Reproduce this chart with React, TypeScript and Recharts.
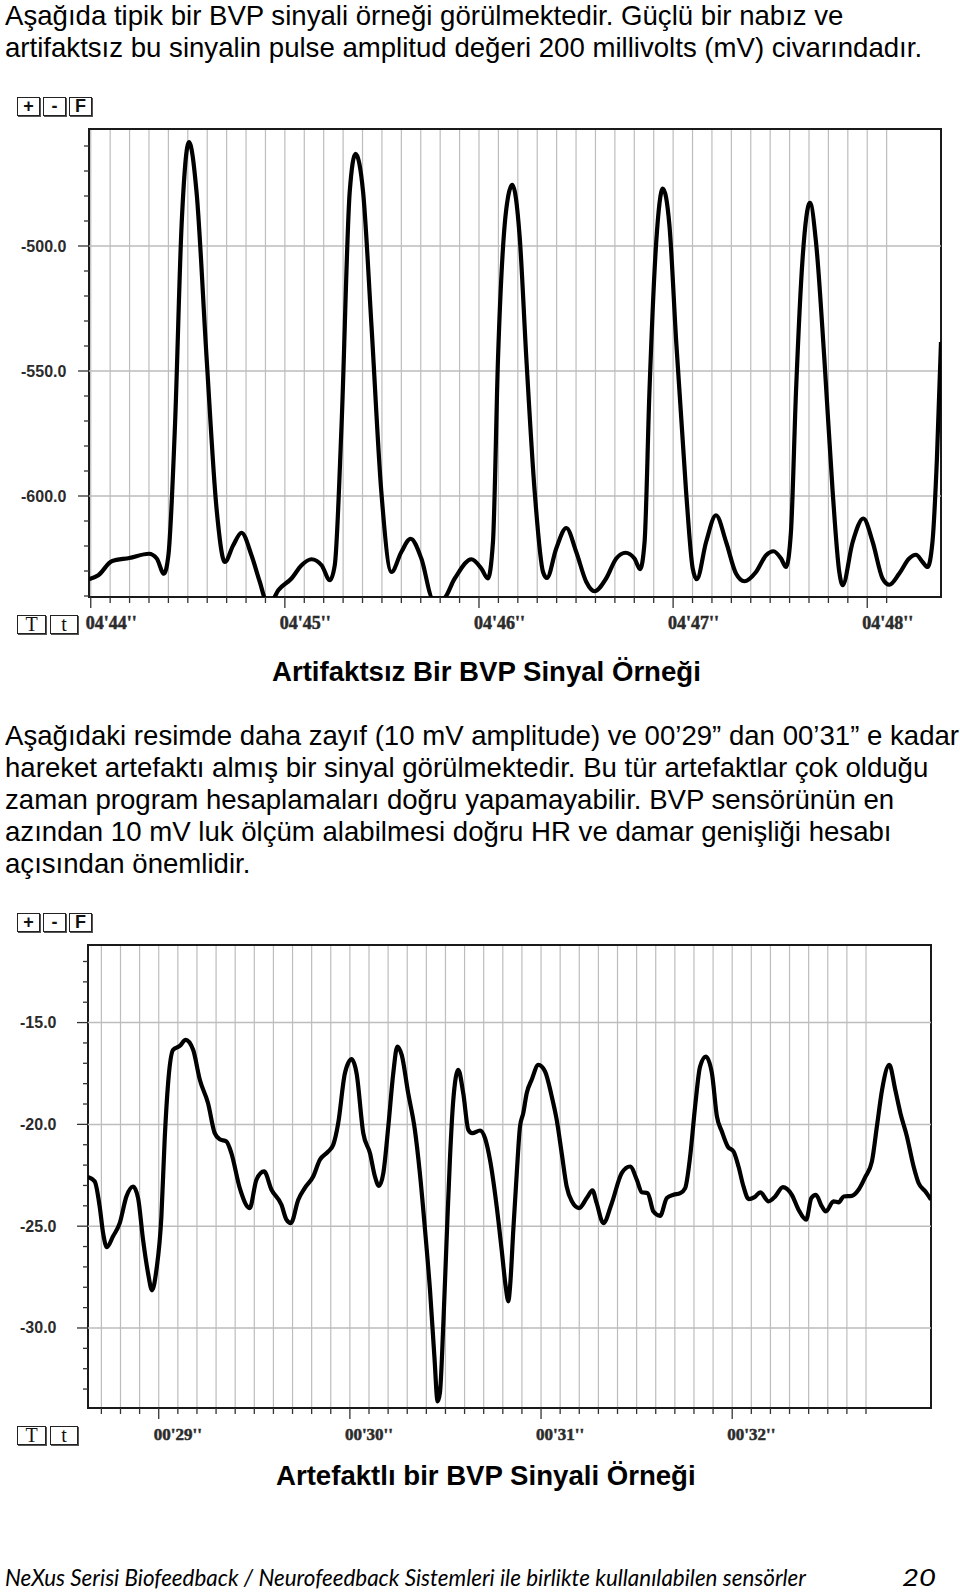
import React from 'react';
import { LineChart, Line, XAxis, YAxis, CartesianGrid, ReferenceLine, ReferenceArea } from 'recharts';

// artefakt-free BVP sample (seconds, value)
const topTimes = [
  283.991, 284.039, 284.108, 284.199, 284.3, 284.34, 284.377, 284.4, 284.434, 284.468, 284.506, 284.545,
  284.597, 284.648, 284.691, 284.734, 284.777, 284.828, 284.871, 284.906, 284.931, 284.966, 285.034, 285.086,
  285.137, 285.189, 285.232, 285.257, 285.292, 285.334, 285.364, 285.403, 285.446, 285.497, 285.549, 285.6,
  285.648, 285.703, 285.763, 285.815, 285.875, 285.961, 286.012, 286.046, 286.072, 286.098, 286.141, 286.172,
  286.209, 286.244, 286.287, 286.33, 286.35, 286.398, 286.45, 286.501, 286.553, 286.595, 286.655, 286.707,
  286.755, 286.801, 286.83, 286.853, 286.878, 286.913, 286.947, 286.981, 287.016, 287.067, 287.101, 287.122,
  287.17, 287.221, 287.273, 287.324, 287.367, 287.427, 287.479, 287.517, 287.556, 287.582, 287.607, 287.633,
  287.667, 287.705, 287.736, 287.779, 287.822, 287.856, 287.873, 287.925, 287.98, 288.028, 288.079, 288.114,
  288.165, 288.216, 288.251, 288.285, 288.311, 288.336, 288.359, 288.38,
];
const topValues = [
  -633.3, -631.7, -626.1, -624.8, -623.1, -625.0, -631.1, -623.7, -571.7, -491.7, -458.4, -478.4,
  -545.0, -605.0, -626.4, -619.7, -614.7, -623.7, -634.4, -642.0, -642.0, -637.7, -633.0, -627.7,
  -625.3, -627.7, -633.7, -627.7, -571.7, -478.4, -463.1, -478.4, -531.7, -598.4, -630.4, -622.4,
  -617.1, -625.0, -641.0, -641.0, -633.0, -625.3, -629.0, -633.0, -618.4, -545.0, -485.0, -475.5,
  -495.7, -545.0, -598.4, -630.4, -632.8, -621.0, -612.8, -622.4, -634.4, -638.1, -633.0, -625.0,
  -622.7, -625.0, -629.3, -618.4, -558.4, -498.4, -477.0, -491.7, -538.4, -598.4, -629.0, -633.3,
  -618.4, -607.7, -618.4, -631.0, -634.1, -630.4, -623.7, -622.1, -625.0, -628.4, -614.4, -558.4,
  -505.0, -482.7, -498.4, -545.0, -598.4, -630.4, -635.7, -618.4, -609.0, -618.4, -633.0, -635.5,
  -631.0, -625.0, -623.5, -626.4, -628.4, -618.4, -585.0, -538.4,
];

// BVP sample with motion artefact
const bottomTimes = [
  28.63, 28.665, 28.691, 28.709, 28.729, 28.761, 28.796, 28.831, 28.866, 28.892, 28.918, 28.944,
  28.965, 28.988, 29.014, 29.031, 29.049, 29.075, 29.11, 29.141, 29.18, 29.215, 29.258, 29.293,
  29.319, 29.354, 29.38, 29.424, 29.476, 29.511, 29.551, 29.59, 29.642, 29.668, 29.691, 29.73,
  29.764, 29.808, 29.843, 29.887, 29.913, 29.939, 29.974, 30.009, 30.035, 30.07, 30.105, 30.131,
  30.152, 30.175, 30.201, 30.227, 30.248, 30.271, 30.305, 30.34, 30.366, 30.393, 30.419, 30.442,
  30.459, 30.471, 30.489, 30.506, 30.524, 30.541, 30.567, 30.593, 30.62, 30.64, 30.681, 30.707,
  30.733, 30.768, 30.794, 30.815, 30.829, 30.838, 30.855, 30.873, 30.89, 30.907, 30.925, 30.951,
  30.986, 31.021, 31.056, 31.082, 31.108, 31.134, 31.161, 31.199, 31.239, 31.269, 31.291, 31.326,
  31.37, 31.422, 31.466, 31.501, 31.527, 31.558, 31.588, 31.623, 31.658, 31.693, 31.728, 31.754,
  31.78, 31.806, 31.832, 31.862, 31.894, 31.92, 31.946, 31.977, 32.007, 32.033, 32.059, 32.086,
  32.117, 32.147, 32.19, 32.225, 32.265, 32.312, 32.347, 32.387, 32.414, 32.438, 32.469, 32.49,
  32.53, 32.557, 32.583, 32.626, 32.661, 32.696, 32.731, 32.757, 32.784, 32.822, 32.853, 32.88,
  32.914, 32.949, 32.975, 33.01, 33.04,
];
const bottomValues = [
  -22.59, -22.8, -24.03, -25.34, -26.03, -25.5, -24.85, -23.54, -23.05, -23.62, -25.67, -27.3,
  -28.15, -27.14, -24.52, -20.76, -17.98, -16.34, -16.15, -15.85, -16.34, -17.81, -18.96, -20.43,
  -20.73, -20.84, -21.41, -23.13, -24.11, -22.72, -22.31, -23.21, -23.95, -24.68, -24.85, -23.7,
  -23.13, -22.56, -21.74, -21.33, -21.0, -19.94, -17.49, -16.8, -17.49, -20.43, -21.41, -22.56,
  -23.02, -22.39, -20.1, -17.49, -16.18, -16.59, -18.47, -20.27, -22.39, -25.17, -28.12, -31.39,
  -33.6, -33.19, -29.76, -25.67, -21.58, -18.8, -17.32, -18.47, -20.27, -20.43, -20.3, -20.68,
  -21.74, -24.03, -26.16, -27.96, -28.69, -27.96, -25.17, -22.39, -20.1, -19.45, -18.47, -17.81,
  -17.08, -17.4, -18.63, -19.78, -21.41, -23.05, -23.78, -24.11, -23.62, -23.24, -23.87, -24.85,
  -23.87, -22.39, -22.07, -22.72, -23.33, -23.38, -24.28, -24.49, -23.62, -23.46, -23.38, -23.13,
  -21.58, -19.12, -17.16, -16.67, -17.49, -19.61, -20.35, -21.09, -21.33, -22.07, -23.05, -23.67,
  -23.57, -23.34, -23.78, -23.54, -23.08, -23.46, -24.19, -24.68, -23.62, -23.46, -24.03, -24.28,
  -23.78, -23.83, -23.54, -23.51, -23.21, -22.59, -21.82, -20.1, -18.3, -17.08, -18.3, -19.45,
  -20.59, -22.07, -22.88, -23.29, -23.7,
];

// labelled ticks
const topSeconds = [284, 285, 286, 287, 288];
const topSecondLabels = ["04'44''", "04'45''", "04'46''", "04'47''", "04'48''"];
const topMajorY = [-600, -550, -500];
const topMajorYLabels = ['-600.0', '-550.0', '-500.0'];

const bottomSeconds = [29, 30, 31, 32];
const bottomSecondLabels = ["00'29''", "00'30''", "00'31''", "00'32''"];
const bottomMajorY = [-30, -25, -20, -15];
const bottomMajorYLabels = ['-30.0', '-25.0', '-20.0', '-15.0'];

const range = (from: number, to: number, step: number) => {
  const out: number[] = [];
  for (let v = from; v <= to + step / 2; v += step) out.push(Math.round(v * 10) / 10);
  return out;
};

const topData = topTimes.map((t, i) => ({ t, v: topValues[i] }));
const bottomData = bottomTimes.map((t, i) => ({ t, v: bottomValues[i] }));

const GRID = '#bdbdbd';
const INK = '#1a1a1a';

function TimeTick(props: any) {
  const { x, y, payload, majors, labels, size } = props;
  const v = Math.round(payload.value * 10) / 10;
  const idx = majors.indexOf(v);
  return (
    <g>
      <line x1={x} x2={x} y1={y} y2={y + (idx >= 0 ? 11 : 6)} stroke="#333" strokeWidth={1.3} />
      {idx >= 0 && (
        <text
          x={x - 5}
          y={y + 32}
          fontFamily="'Liberation Serif', 'Times New Roman', serif"
          fontWeight="bold"
          fontSize={size}
          fill="#2b2b2b"
          stroke="#2b2b2b"
          strokeWidth={0.5}
        >
          {labels[idx]}
        </text>
      )}
    </g>
  );
}

function ValueTick(props: any) {
  const { x, y, payload, majors, labels } = props;
  const idx = majors.indexOf(payload.value);
  return (
    <g>
      <line x1={x - (idx >= 0 ? 11 : 5)} x2={x} y1={y} y2={y} stroke="#333" strokeWidth={1.3} />
      {idx >= 0 && (
        <text x={x - 68} y={y + 5.5} fontFamily="'Liberation Sans', Arial, sans-serif" fontWeight="bold" fontSize={16} fill="#2b2b2b">
          {labels[idx]}
        </text>
      )}
    </g>
  );
}

function Btn({ left, top, width, label, serif }: { left: number; top: number; width: number; label: string; serif?: boolean }) {
  return (
    <div
      style={{
        position: 'absolute',
        left,
        top,
        width: width - 2,
        height: 17,
        border: '1px solid #222',
        boxShadow: '1px 1px 0 #555',
        fontFamily: serif ? "'Liberation Serif', serif" : "'Liberation Sans', Arial, sans-serif",
        fontWeight: serif ? 'normal' : 'bold',
        fontSize: serif ? 20 : 18,
        lineHeight: '17px',
        textAlign: 'center',
        color: '#111',
      }}
    >
      {label}
    </div>
  );
}

type ScopeProps = {
  top: number;
  plotTop: number;
  plotLeft: number;
  plotRight: number;
  plotBottom: number;
  data: { t: number; v: number }[];
  xDomain: [number, number];
  yDomain: [number, number];
  xTicks: number[];
  yTicks: number[];
  seconds: number[];
  secondLabels: string[];
  majorY: number[];
  majorYLabels: string[];
  labelSize: number;
};

function Scope(p: ScopeProps) {
  const height = p.plotBottom - p.top + 40;
  return (
    <div style={{ position: 'absolute', left: 0, top: p.top }}>
      <LineChart
        width={960}
        height={height}
        data={p.data}
        margin={{ top: p.plotTop - p.top, right: 960 - p.plotRight, bottom: 0, left: 0 }}
      >
        <CartesianGrid horizontal={false} stroke={GRID} strokeWidth={1.2} />
        {p.majorY.map((y) => (
          <ReferenceLine key={y} y={y} stroke={GRID} strokeWidth={1.5} />
        ))}
        <XAxis
          type="number"
          dataKey="t"
          domain={p.xDomain}
          allowDataOverflow
          ticks={p.xTicks}
          interval={0}
          height={40}
          axisLine={false}
          tickLine={false}
          tickSize={0}
          tickMargin={0}
          tick={(tp: any) => <TimeTick {...tp} majors={p.seconds} labels={p.secondLabels} size={p.labelSize} />}
        />
        <YAxis
          type="number"
          domain={p.yDomain}
          allowDataOverflow
          ticks={p.yTicks}
          interval={0}
          width={p.plotLeft}
          axisLine={false}
          tickLine={false}
          tickSize={0}
          tickMargin={0}
          tick={(tp: any) => <ValueTick {...tp} majors={p.majorY} labels={p.majorYLabels} />}
        />
        <ReferenceArea
          x1={p.xDomain[0]}
          x2={p.xDomain[1]}
          y1={p.yDomain[0]}
          y2={p.yDomain[1]}
          fill="none"
          fillOpacity={0}
          stroke={INK}
          strokeWidth={2}
        />
        <Line
          type="monotone"
          dataKey="v"
          stroke="#000"
          strokeWidth={4.2}
          strokeLinejoin="round"
          dot={false}
          isAnimationActive={false}
        />
      </LineChart>
    </div>
  );
}

const body: React.CSSProperties = {
  position: 'absolute',
  left: 5,
  fontFamily: "'Liberation Sans', Arial, sans-serif",
  fontSize: 27.6,
  color: '#000',
  whiteSpace: 'nowrap',
};

export default function App() {
  return (
    <div style={{ position: 'absolute', left: 0, top: 0, width: 960, height: 1593, background: '#fff', overflow: 'hidden' }}>
      <div style={{ ...body, top: 0, lineHeight: '31.5px' }}>
        <div>Aşağıda tipik bir BVP sinyali örneği görülmektedir. Güçlü bir nabız ve</div>
        <div>artifaktsız bu sinyalin pulse amplitud değeri 200 millivolts (mV) civarındadır.</div>
      </div>

      <Btn left={17} top={97} width={23} label="+" />
      <Btn left={43} top={97} width={23} label="-" />
      <Btn left={69} top={97} width={23} label="F" />
      <Scope
        top={100}
        plotTop={129}
        plotLeft={89}
        plotRight={941}
        plotBottom={597}
        data={topData}
        xDomain={[283.991, 288.38]}
        yDomain={[-640.4, -453.2]}
        xTicks={range(284, 288.1, 0.1)}
        yTicks={range(-640, -460, 10)}
        seconds={topSeconds}
        secondLabels={topSecondLabels}
        majorY={topMajorY}
        majorYLabels={topMajorYLabels}
        labelSize={18}
      />
      <Btn left={17} top={615} width={29} label="T" serif />
      <Btn left={50} top={615} width={28} label="t" serif />

      <div style={{ ...body, left: 272, top: 656, lineHeight: '32px', fontWeight: 'bold' }}>Artifaktsız Bir BVP Sinyal Örneği</div>

      <div style={{ ...body, top: 720, lineHeight: '32px' }}>
        <div>Aşağıdaki resimde daha zayıf (10 mV amplitude) ve 00’29” dan 00’31” e kadar</div>
        <div>hareket artefaktı almış bir sinyal görülmektedir. Bu tür artefaktlar çok olduğu</div>
        <div>zaman program hesaplamaları doğru yapamayabilir. BVP sensörünün en</div>
        <div>azından 10 mV luk ölçüm alabilmesi doğru HR ve damar genişliği hesabı</div>
        <div>açısından önemlidir.</div>
      </div>

      <Btn left={17} top={913} width={23} label="+" />
      <Btn left={43} top={913} width={23} label="-" />
      <Btn left={69} top={913} width={23} label="F" />
      <Scope
        top={920}
        plotTop={945}
        plotLeft={88}
        plotRight={931}
        plotBottom={1408}
        data={bottomData}
        xDomain={[28.63, 33.04]}
        yDomain={[-33.93, -11.19]}
        xTicks={range(28.7, 32.7, 0.1)}
        yTicks={range(-33, -12, 1)}
        seconds={bottomSeconds}
        secondLabels={bottomSecondLabels}
        majorY={bottomMajorY}
        majorYLabels={bottomMajorYLabels}
        labelSize={17}
      />
      <Btn left={17} top={1426} width={29} label="T" serif />
      <Btn left={50} top={1426} width={28} label="t" serif />

      <div style={{ ...body, left: 276, top: 1460, lineHeight: '32px', fontWeight: 'bold' }}>Artefaktlı bir BVP Sinyali Örneği</div>

      <svg width={960} height={40} style={{ position: 'absolute', left: 0, top: 1553 }}>
        <text x={5} y={33} textLength={801} lengthAdjust="spacingAndGlyphs" fontFamily="Lato, 'Open Sans', sans-serif" fontStyle="italic" fontSize={24} fill="#000">
          NeXus Serisi Biofeedback / Neurofeedback Sistemleri ile birlikte kullanılabilen sensörler
        </text>
        <text x={902} y={33} textLength={34} lengthAdjust="spacingAndGlyphs" fontFamily="Lato, 'Open Sans', sans-serif" fontStyle="italic" fontSize={24} fill="#000">
          20
        </text>
      </svg>
    </div>
  );
}
